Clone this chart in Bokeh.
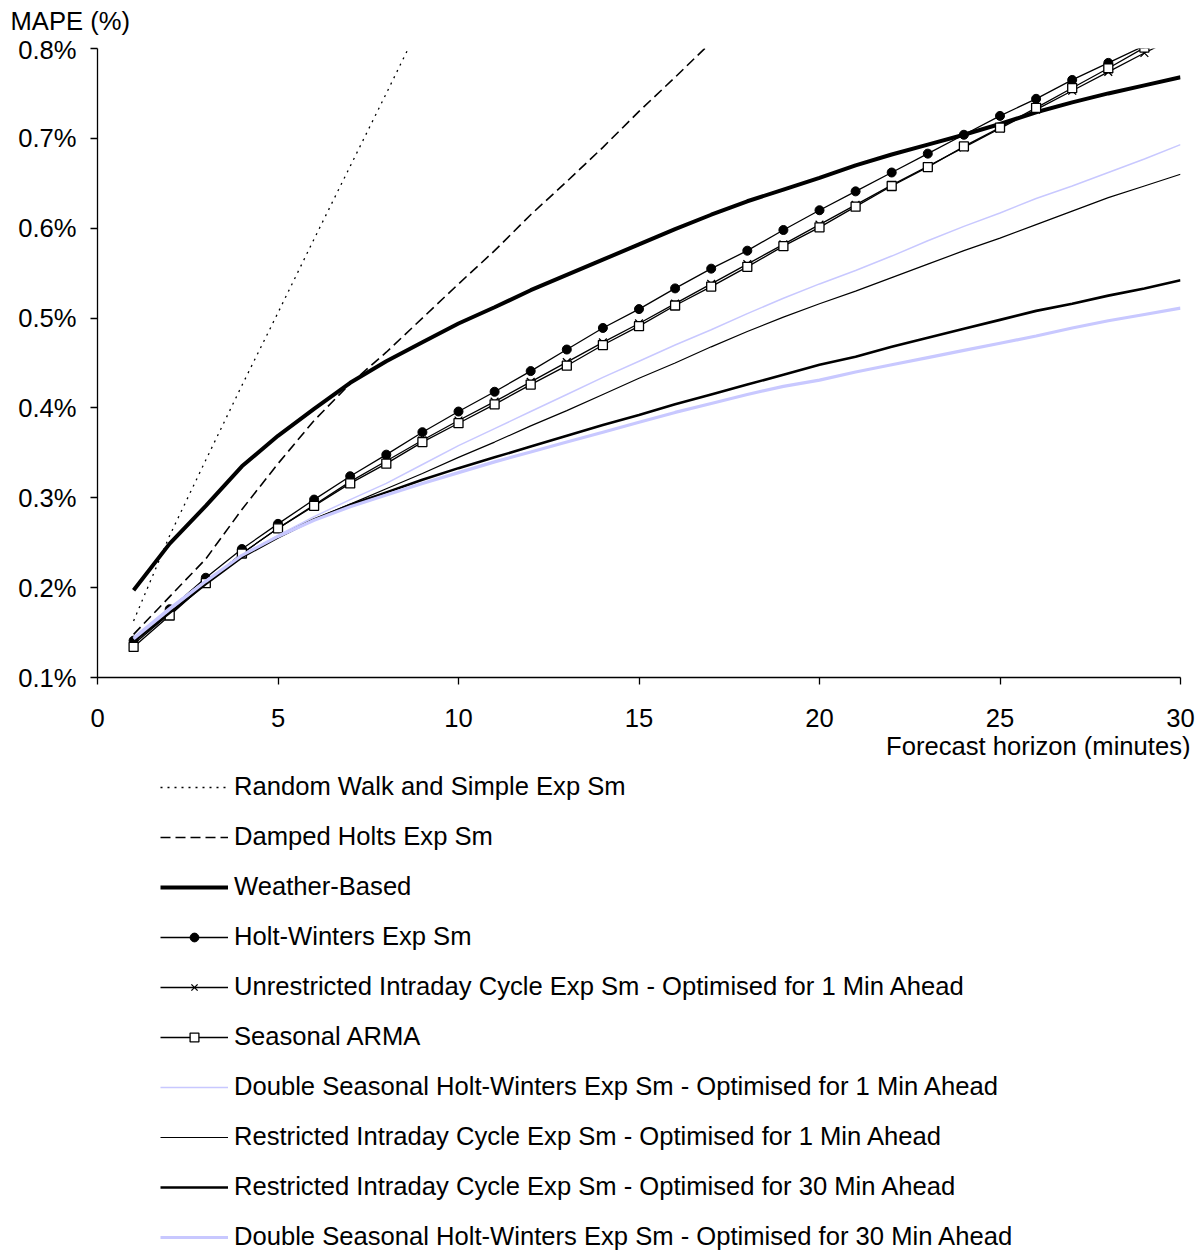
from bokeh.plotting import figure
from bokeh.models import Range1d, FixedTicker, PrintfTickFormatter, Legend, LegendItem, Title
from bokeh.layouts import column
from bokeh.embed import file_html
from bokeh.resources import INLINE

FONT = "Liberation Sans"
FS = "25.6px"

# ---- data (MAPE %, by forecast horizon in minutes) ----
horizon = list(range(1, 31))
x_ticks = [0, 5, 10, 15, 20, 25, 30]
y_ticks = [0.1, 0.2, 0.3, 0.4, 0.5, 0.6, 0.7, 0.8]

rw_horizon = list(range(1, 10))
random_walk = [0.163, 0.258, 0.342, 0.425, 0.506, 0.588, 0.669, 0.750, 0.832]

dh_horizon = list(range(1, 18))
damped_holts = [0.148, 0.190, 0.232, 0.287, 0.338, 0.386, 0.427, 0.462, 0.500,
                0.538, 0.575, 0.615, 0.652, 0.690, 0.730, 0.768, 0.807]

weather = [0.197, 0.249, 0.291, 0.335, 0.369, 0.399, 0.428, 0.452, 0.473, 0.494,
           0.512, 0.531, 0.548, 0.565, 0.582, 0.599, 0.615, 0.630, 0.643, 0.656,
           0.670, 0.682, 0.693, 0.704, 0.716, 0.729, 0.740, 0.750, 0.759, 0.768]

holt_winters = [0.141, 0.176, 0.211, 0.243, 0.271, 0.298, 0.324, 0.348, 0.373, 0.396,
                0.418, 0.441, 0.465, 0.489, 0.510, 0.533, 0.555, 0.575, 0.598, 0.620,
                0.641, 0.662, 0.683, 0.704, 0.725, 0.744, 0.765, 0.784, 0.803, 0.822]

unrestricted_1 = [0.137, 0.171, 0.205, 0.238, 0.266, 0.292, 0.318, 0.341, 0.364, 0.386,
                  0.407, 0.429, 0.451, 0.473, 0.494, 0.516, 0.538, 0.560, 0.582, 0.604,
                  0.626, 0.648, 0.669, 0.690, 0.711, 0.732, 0.753, 0.774, 0.795, 0.815]

seasonal_arma = [0.134, 0.169, 0.205, 0.238, 0.266, 0.291, 0.316, 0.338, 0.362, 0.383,
                 0.404, 0.426, 0.447, 0.470, 0.491, 0.514, 0.535, 0.557, 0.580, 0.601,
                 0.624, 0.647, 0.668, 0.691, 0.712, 0.734, 0.756, 0.778, 0.801, 0.822]

dshw_1 = [0.145, 0.178, 0.208, 0.236, 0.258, 0.279, 0.298, 0.316, 0.337, 0.358,
          0.377, 0.396, 0.415, 0.434, 0.452, 0.470, 0.487, 0.505, 0.522, 0.538,
          0.553, 0.569, 0.586, 0.602, 0.617, 0.633, 0.647, 0.662, 0.677, 0.693]

restricted_1 = [0.142, 0.175, 0.206, 0.235, 0.257, 0.276, 0.293, 0.310, 0.327, 0.345,
                0.362, 0.380, 0.397, 0.415, 0.433, 0.450, 0.468, 0.485, 0.501, 0.516,
                0.530, 0.545, 0.560, 0.575, 0.589, 0.604, 0.619, 0.634, 0.647, 0.660]

restricted_30 = [0.140, 0.172, 0.204, 0.234, 0.256, 0.276, 0.292, 0.306, 0.320, 0.333,
                 0.345, 0.357, 0.369, 0.381, 0.392, 0.404, 0.415, 0.426, 0.437, 0.448,
                 0.457, 0.468, 0.478, 0.488, 0.498, 0.508, 0.516, 0.525, 0.533, 0.542]

dshw_30 = [0.143, 0.176, 0.207, 0.236, 0.257, 0.275, 0.290, 0.303, 0.316, 0.328,
           0.340, 0.351, 0.362, 0.373, 0.384, 0.395, 0.405, 0.415, 0.424, 0.431,
           0.440, 0.448, 0.456, 0.464, 0.472, 0.480, 0.489, 0.497, 0.504, 0.511]

labels = [
    "Random Walk and Simple Exp Sm",
    "Damped Holts Exp Sm",
    "Weather-Based",
    "Holt-Winters Exp Sm",
    "Unrestricted Intraday Cycle Exp Sm - Optimised for 1 Min Ahead",
    "Seasonal ARMA",
    "Double Seasonal Holt-Winters Exp Sm - Optimised for 1 Min Ahead",
    "Restricted Intraday Cycle Exp Sm - Optimised for 1 Min Ahead",
    "Restricted Intraday Cycle Exp Sm - Optimised for 30 Min Ahead",
    "Double Seasonal Holt-Winters Exp Sm - Optimised for 30 Min Ahead",
]

LAV = "#c8c8ff"


def add_series(f):
    r_rw = f.line(rw_horizon, random_walk, line_color="black", line_width=1.3, line_dash="2 5")
    r_dh = f.line(dh_horizon, damped_holts, line_color="black", line_width=1.6, line_dash="10 5")
    r_wb = f.line(horizon, weather, line_color="black", line_width=4)
    r_hw_l = f.line(horizon, holt_winters, line_color="black", line_width=1.3)
    r_hw_m = f.scatter(horizon, holt_winters, marker="circle", size=9,
                       fill_color="black", line_color="black")
    r_un_l = f.line(horizon, unrestricted_1, line_color="black", line_width=1.3)
    r_un_m = f.scatter(horizon, unrestricted_1, marker="x", size=11,
                       line_color="black", line_width=1.3)
    r_sa_l = f.line(horizon, seasonal_arma, line_color="black", line_width=1.3)
    r_sa_m = f.scatter(horizon, seasonal_arma, marker="square", size=9,
                       fill_color="white", line_color="black", line_width=1.3)
    r_d1 = f.line(horizon, dshw_1, line_color=LAV, line_width=1.5)
    r_r1 = f.line(horizon, restricted_1, line_color="black", line_width=1.2)
    r_r30 = f.line(horizon, restricted_30, line_color="black", line_width=2.6)
    r_d30 = f.line(horizon, dshw_30, line_color=LAV, line_width=3.2)
    return [[r_rw], [r_dh], [r_wb], [r_hw_l, r_hw_m], [r_un_l, r_un_m],
            [r_sa_l, r_sa_m], [r_d1], [r_r1], [r_r30], [r_d30]]


def bare(f):
    f.outline_line_color = None
    f.xgrid.visible = False
    f.ygrid.visible = False
    f.background_fill_color = "white"
    f.border_fill_color = "white"


# ---- header strip carrying the y-axis title ----
head = figure(width=1203, frame_height=1, x_range=Range1d(0, 1), y_range=Range1d(0, 1),
              x_axis_type=None, y_axis_type=None,
              min_border_left=97, min_border_right=23, min_border_top=34, min_border_bottom=0,
              output_backend="svg", toolbar_location=None)
bare(head)
head.title = Title(text="MAPE (%)", align="left", offset=-87, standoff=0,
                   text_font=FONT, text_font_size=FS, text_font_style="normal",
                   text_color="black")

# ---- main chart ----
p = figure(frame_width=1083, frame_height=629,
           min_border_left=97, min_border_top=13, min_border_right=23,
           min_border_bottom=80,
           x_range=Range1d(0, 30), y_range=Range1d(0.1, 0.8),
           output_backend="svg", toolbar_location=None)
bare(p)

for ax in (p.xaxis[0], p.yaxis[0]):
    ax.axis_line_color = "black"
    ax.axis_line_width = 1.3
    ax.major_tick_line_color = "black"
    ax.major_tick_line_width = 1.3
    ax.major_tick_out = 7
    ax.major_tick_in = 0
    ax.minor_tick_line_color = None
    ax.major_label_text_font = FONT
    ax.major_label_text_font_size = FS
    ax.major_label_text_color = "black"

p.xaxis.ticker = FixedTicker(ticks=x_ticks)
p.yaxis.ticker = FixedTicker(ticks=y_ticks)
p.yaxis.formatter = PrintfTickFormatter(format="%.1f%%")
p.yaxis.major_label_standoff = 14
p.xaxis.major_label_standoff = 24

p.add_layout(Title(text="Forecast horizon (minutes)", align="right", offset=-10, standoff=0,
                   text_font=FONT, text_font_size=FS, text_font_style="normal",
                   text_color="black"), "below")

add_series(p)

# ---- legend panel below the chart ----
leg = figure(width=1203, height=495, x_range=Range1d(100, 101), y_range=Range1d(100, 101),
             x_axis_type=None, y_axis_type=None,
             min_border_left=97, min_border_top=0, min_border_right=23, min_border_bottom=0,
             output_backend="svg", toolbar_location=None)
bare(leg)
groups = add_series(leg)
items = [LegendItem(label=lab, renderers=rs) for lab, rs in zip(labels, groups)]
legend = Legend(items=items, location=(63, 3), orientation="vertical",
                glyph_width=68, glyph_height=22, label_height=29, spacing=21,
                label_standoff=6, padding=0, margin=0,
                label_text_font=FONT, label_text_font_size=FS, label_text_color="black",
                background_fill_alpha=0, border_line_color=None)
leg.add_layout(legend, "center")

layout = column(head, p, leg, spacing=0)
open("out.html", "w").write(file_html(layout, INLINE))
